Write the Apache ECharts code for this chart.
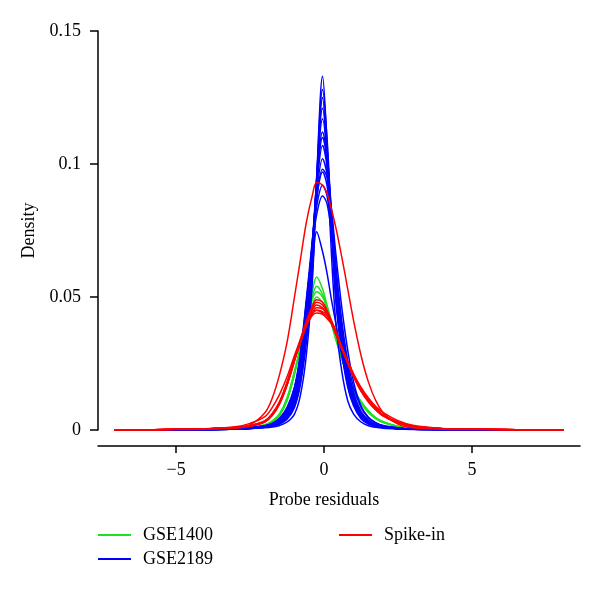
<!DOCTYPE html>
<html>
<head>
<meta charset="utf-8">
<script src="https://cdn.jsdelivr.net/npm/echarts@6/dist/echarts.min.js"></script>
<style>html,body{margin:0;padding:0;background:#fff;}#c{width:600px;height:595px;}</style>
</head>
<body>
<div id="c"></div>
<script>
// Shared x positions (probe residuals) at which each density curve was read
const xGrid = [-7.1,-6,-5,-4,-3,-2.5,-2,-1.75,-1.5,-1.25,-1,-0.8,-0.6,-0.4,-0.25,-0.05,0.1,0.25,0.4,0.6,0.8,1,1.25,1.5,1.75,2,2.5,3,4,5,6,7,8.1];
const xTickValues = [-5, 0, 5];
const yTickInterval = 0.05;

// GSE1400 (green)
const gse1400_1 = [0,0.0001,0.0001,0.0002,0.0004,0.0008,0.0018,0.0030,0.0055,0.0110,0.021,0.031,0.042,0.052,0.0575,0.053,0.047,0.041,0.035,0.027,0.020,0.015,0.0100,0.0065,0.0042,0.0028,0.0012,0.0006,0.0002,0.0001,0.0001,0,0];
const gse1400_2 = [0,0.0001,0.0001,0.0002,0.0004,0.0008,0.0018,0.0031,0.0057,0.0115,0.021,0.031,0.041,0.050,0.054,0.051,0.046,0.040,0.035,0.027,0.020,0.015,0.0105,0.0068,0.0044,0.0029,0.0013,0.0006,0.0002,0.0001,0.0001,0,0];
const gse1400_3 = [0,0.0001,0.0001,0.0002,0.0004,0.0009,0.0019,0.0032,0.0059,0.0118,0.022,0.031,0.041,0.049,0.052,0.050,0.046,0.040,0.034,0.027,0.020,0.015,0.0105,0.0070,0.0045,0.0030,0.0013,0.0006,0.0002,0.0001,0.0001,0,0];
const gse1400_4 = [0,0.0001,0.0001,0.0002,0.0004,0.0009,0.0020,0.0034,0.0062,0.0122,0.022,0.031,0.040,0.047,0.050,0.048,0.045,0.040,0.034,0.027,0.020,0.015,0.0108,0.0072,0.0047,0.0031,0.0014,0.0007,0.0003,0.0001,0.0001,0,0];

// GSE2189 (blue)
const gse2189_1 = [0,0,0.0001,0.0002,0.0004,0.0006,0.0010,0.0014,0.0022,0.0040,0.0085,0.017,0.033,0.058,0.095,0.133,0.108,0.075,0.048,0.029,0.016,0.0090,0.0042,0.0022,0.0013,0.0009,0.0005,0.0003,0.0002,0.0001,0,0,0];
const gse2189_2 = [0,0,0.0001,0.0002,0.0004,0.0006,0.0010,0.0015,0.0024,0.0045,0.0090,0.018,0.035,0.060,0.094,0.128,0.110,0.078,0.050,0.030,0.017,0.0095,0.0045,0.0024,0.0014,0.0009,0.0005,0.0003,0.0002,0.0001,0,0,0];
const gse2189_3 = [0,0,0.0001,0.0002,0.0004,0.0006,0.0011,0.0016,0.0026,0.0050,0.0100,0.020,0.037,0.063,0.095,0.121,0.106,0.078,0.052,0.032,0.018,0.0100,0.0048,0.0025,0.0015,0.0010,0.0005,0.0003,0.0002,0.0001,0,0,0];
const gse2189_4 = [0,0,0.0001,0.0002,0.0004,0.0007,0.0012,0.0018,0.0030,0.0055,0.0110,0.021,0.039,0.065,0.094,0.117,0.104,0.079,0.053,0.033,0.019,0.0105,0.0050,0.0026,0.0016,0.0010,0.0005,0.0003,0.0002,0.0001,0,0,0];
const gse2189_5 = [0,0,0.0001,0.0002,0.0004,0.0007,0.0012,0.0018,0.0030,0.0058,0.0115,0.022,0.041,0.067,0.093,0.112,0.102,0.079,0.055,0.034,0.020,0.0110,0.0053,0.0028,0.0017,0.0011,0.0006,0.0003,0.0002,0.0001,0,0,0];
const gse2189_6 = [0,0,0.0001,0.0002,0.0004,0.0007,0.0013,0.0019,0.0032,0.0060,0.0120,0.024,0.043,0.068,0.091,0.107,0.099,0.079,0.056,0.035,0.021,0.0115,0.0056,0.0030,0.0018,0.0011,0.0006,0.0003,0.0002,0.0001,0,0,0];
const gse2189_7 = [0,0,0.0001,0.0002,0.0004,0.0007,0.0013,0.0020,0.0034,0.0062,0.0125,0.025,0.045,0.069,0.089,0.102,0.096,0.078,0.057,0.036,0.021,0.0120,0.0060,0.0032,0.0019,0.0012,0.0006,0.0003,0.0002,0.0001,0,0,0];
const gse2189_8 = [0,0,0.0001,0.0002,0.0004,0.0007,0.0013,0.0020,0.0035,0.0065,0.0130,0.026,0.046,0.070,0.087,0.097,0.092,0.077,0.058,0.037,0.022,0.0125,0.0062,0.0033,0.0019,0.0012,0.0006,0.0003,0.0002,0.0001,0,0,0];
const gse2189_9 = [0,0,0.0001,0.0002,0.0004,0.0008,0.0014,0.0021,0.0037,0.0070,0.0140,0.027,0.047,0.069,0.084,0.092,0.088,0.075,0.058,0.038,0.023,0.0130,0.0065,0.0035,0.0020,0.0013,0.0007,0.0004,0.0002,0.0001,0,0,0];
const gse2189_10 = [0,0,0.0001,0.0002,0.0004,0.0008,0.0014,0.0022,0.0039,0.0075,0.0150,0.028,0.048,0.068,0.081,0.088,0.085,0.074,0.058,0.039,0.024,0.0140,0.0070,0.0037,0.0021,0.0013,0.0007,0.0004,0.0002,0.0001,0,0,0];
const gse2189_11 = [0,0,0.0001,0.0002,0.0004,0.0008,0.0015,0.0023,0.0040,0.0060,0.0115,0.021,0.039,0.060,0.0745,0.067,0.059,0.049,0.040,0.028,0.018,0.0110,0.0060,0.0033,0.0020,0.0013,0.0007,0.0004,0.0002,0.0001,0,0,0];
const gse2189_12 = [0,0,0.0001,0.0001,0.0003,0.0005,0.0008,0.0011,0.0017,0.0030,0.0060,0.013,0.028,0.055,0.092,0.125,0.100,0.066,0.040,0.022,0.011,0.0060,0.0030,0.0016,0.0010,0.0007,0.0004,0.0002,0.0001,0.0001,0,0,0];
const gse2189_13 = [0,0,0.0001,0.0002,0.0005,0.0009,0.0016,0.0025,0.0043,0.0080,0.016,0.029,0.049,0.071,0.087,0.098,0.095,0.083,0.066,0.046,0.030,0.018,0.0090,0.0048,0.0028,0.0017,0.0008,0.0004,0.0002,0.0001,0,0,0];
const gse2189_14 = [0,0,0.0001,0.0002,0.0005,0.0009,0.0016,0.0025,0.0045,0.0085,0.016,0.027,0.045,0.070,0.092,0.110,0.102,0.083,0.062,0.041,0.026,0.016,0.0085,0.0045,0.0026,0.0016,0.0008,0.0004,0.0002,0.0001,0,0,0];

// Spike-in (red)
const spike_1 = [0.0001,0.0001,0.0002,0.0003,0.0008,0.0020,0.0065,0.012,0.021,0.033,0.050,0.064,0.078,0.088,0.093,0.092,0.089,0.083,0.076,0.065,0.053,0.041,0.028,0.018,0.011,0.0065,0.0022,0.0008,0.0003,0.0002,0.0001,0.0001,0.0001];
const spike_2 = [0.0001,0.0001,0.0003,0.0005,0.0012,0.0025,0.0050,0.0085,0.0135,0.020,0.028,0.034,0.040,0.044,0.045,0.044,0.042,0.040,0.036,0.031,0.026,0.021,0.016,0.012,0.0088,0.0065,0.0035,0.0018,0.0006,0.0003,0.0002,0.0001,0.0001];
const spike_3 = [0.0001,0.0001,0.0003,0.0004,0.0008,0.0014,0.0030,0.0054,0.0098,0.0168,0.026,0.034,0.041,0.0465,0.049,0.048,0.045,0.041,0.037,0.031,0.025,0.020,0.0145,0.0105,0.0075,0.0052,0.0026,0.0013,0.0005,0.0003,0.0002,0.0001,0.0001];
const spike_4 = [0.0001,0.0001,0.0003,0.0004,0.0008,0.0015,0.0031,0.0056,0.0100,0.0170,0.026,0.033,0.040,0.0455,0.048,0.047,0.0445,0.041,0.037,0.031,0.025,0.020,0.0148,0.0107,0.0076,0.0053,0.0027,0.0013,0.0005,0.0003,0.0002,0.0001,0.0001];
const spike_5 = [0.0001,0.0001,0.0003,0.0004,0.0009,0.0015,0.0032,0.0057,0.0102,0.0172,0.026,0.033,0.040,0.045,0.047,0.046,0.044,0.041,0.037,0.031,0.0255,0.0205,0.0150,0.0108,0.0077,0.0054,0.0027,0.0013,0.0005,0.0003,0.0002,0.0001,0.0001];
const spike_6 = [0.0001,0.0001,0.0003,0.0004,0.0009,0.0016,0.0033,0.0058,0.0104,0.0175,0.0265,0.033,0.0395,0.044,0.046,0.0455,0.0435,0.0405,0.0365,0.031,0.0255,0.0205,0.0152,0.0110,0.0078,0.0055,0.0028,0.0014,0.0005,0.0003,0.0002,0.0001,0.0001];
const spike_7 = [0.0001,0.0001,0.0003,0.0004,0.0009,0.0016,0.0034,0.0060,0.0106,0.0178,0.027,0.033,0.039,0.0435,0.045,0.0445,0.043,0.040,0.036,0.0305,0.0255,0.0207,0.0154,0.0112,0.0080,0.0056,0.0028,0.0014,0.0005,0.0003,0.0002,0.0001,0.0001];
const spike_8 = [0.0001,0.0001,0.0003,0.0004,0.0009,0.0017,0.0035,0.0062,0.0108,0.0180,0.027,0.033,0.039,0.043,0.044,0.0435,0.042,0.040,0.036,0.0305,0.0257,0.0208,0.0156,0.0114,0.0081,0.0057,0.0029,0.0014,0.0005,0.0003,0.0002,0.0001,0.0001];

const groups = [
  { name: 'GSE1400', color: '#1fe01f', curves: [gse1400_1, gse1400_2, gse1400_3, gse1400_4] },
  { name: 'GSE2189', color: '#0000ff', curves: [gse2189_1, gse2189_2, gse2189_3, gse2189_4, gse2189_5, gse2189_6, gse2189_7, gse2189_8, gse2189_9, gse2189_10, gse2189_11, gse2189_12, gse2189_13, gse2189_14] },
  { name: 'Spike-in', color: '#ff0000', curves: [spike_1, spike_2, spike_3, spike_4, spike_5, spike_6, spike_7, spike_8] }
];

const FONT = 'Liberation Serif';
const series = [];
groups.forEach(g => {
  g.curves.forEach(c => {
    series.push({
      name: g.name,
      type: 'line',
      data: xGrid.map((x, i) => [x, c[i]]),
      showSymbol: false,
      symbol: 'none',
      smooth: 0.35,
      itemStyle: { color: g.color },
      lineStyle: { color: g.color, width: 1.5 },
      emphasis: { disabled: true },
      silent: true
    });
  });
});

const chart = echarts.init(document.getElementById('c'), null, { renderer: 'canvas' });
const legendCommon = {
  orient: 'vertical',
  icon: 'rect',
  itemWidth: 33,
  itemHeight: 2,
  itemGap: 6,
  padding: 0,
  selectedMode: false,
  textStyle: { fontFamily: FONT, fontSize: 18, color: '#000', padding: [0, 0, 0, 7] }
};
chart.setOption({
  animation: false,
  backgroundColor: '#fff',
  grid: { left: 98, right: 20, top: 31, bottom: 165 },
  legend: [
    Object.assign({}, legendCommon, { data: ['GSE1400', 'GSE2189'], left: 98, top: 526 }),
    Object.assign({}, legendCommon, { data: ['Spike-in'], left: 339, top: 526 })
  ],
  xAxis: {
    type: 'value',
    min: -7.64,
    max: 8.65,
    offset: 16,
    name: 'Probe residuals',
    nameLocation: 'middle',
    nameGap: 45,
    nameTextStyle: { fontFamily: FONT, fontSize: 18, color: '#000', padding: [0, 30, 0, 0] },
    axisLine: { show: true, onZero: false, lineStyle: { color: '#000', width: 1.5 } },
    axisTick: { show: true, length: 7, customValues: xTickValues, lineStyle: { color: '#000', width: 1.5 } },
    axisLabel: {
      customValues: xTickValues,
      margin: 15,
      fontFamily: FONT, fontSize: 18, color: '#000',
      formatter: v => String(v).replace('-', '\u2212')
    },
    splitLine: { show: false }
  },
  yAxis: {
    type: 'value',
    min: 0,
    max: 0.15,
    interval: yTickInterval,
    name: 'Density',
    nameLocation: 'middle',
    nameGap: 56,
    nameRotate: 90,
    nameTextStyle: { fontFamily: FONT, fontSize: 18, color: '#000' },
    axisLine: { show: true, onZero: false, lineStyle: { color: '#000', width: 1.5 } },
    axisTick: { show: true, length: 8, lineStyle: { color: '#000', width: 1.5 } },
    axisLabel: { margin: 17, fontFamily: FONT, fontSize: 18, color: '#000' },
    splitLine: { show: false }
  },
  series: series
});
</script>
</body>
</html>
